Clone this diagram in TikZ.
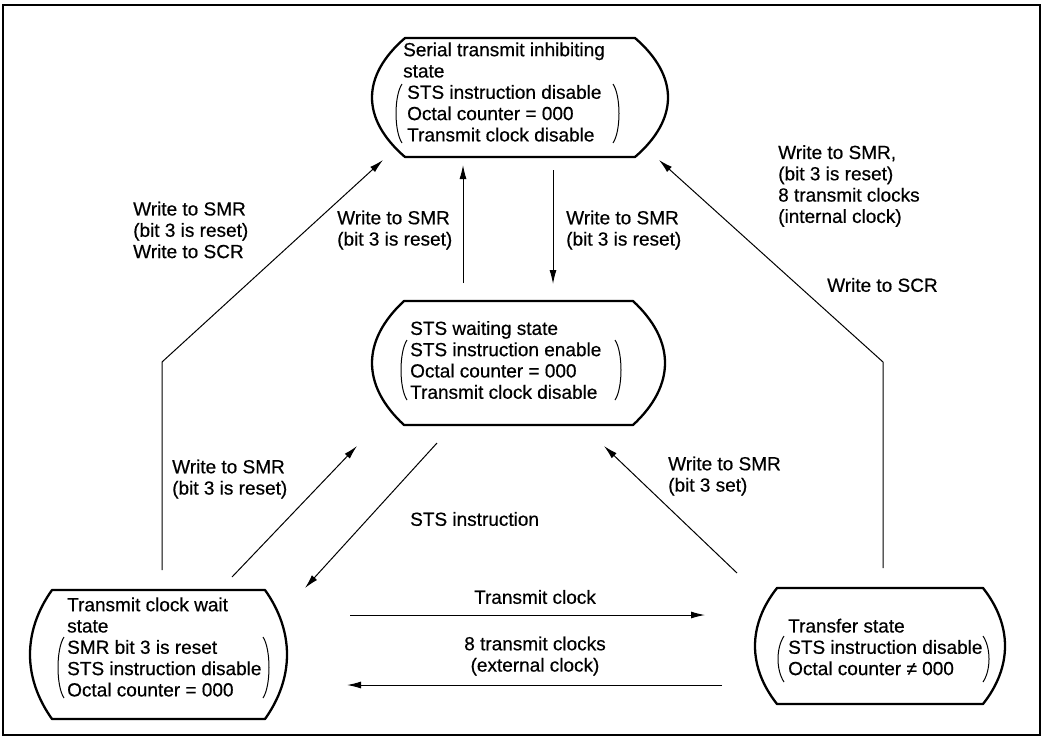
\documentclass[tikz,border=0pt]{standalone}
\usepackage{fontspec}
\setmainfont{Liberation Sans}[FakeBold=0.5]
\usetikzlibrary{arrows.meta}
\newcommand\barrelshape[5]{%
  \draw[statebox] (#1+#5,#3) -- (#2-#5,#3)
    .. controls (#2+#5/3,#3+0.32*#4-0.32*#3) and (#2+#5/3,#4-0.32*#4+0.32*#3) .. (#2-#5,#4)
    -- (#1+#5,#4)
    .. controls (#1-#5/3,#4-0.32*#4+0.32*#3) and (#1-#5/3,#3+0.32*#4-0.32*#3) .. cycle;}
\newcommand\leftparen[3]{%
  \draw[paren] (#1+5,#2) .. controls (#1-3,#2+12) and (#1-3,#3-12) .. (#1+5,#3);}
\newcommand\rightparen[3]{%
  \draw[paren] (#1-5,#2) .. controls (#1+3,#2+12) and (#1+3,#3-12) .. (#1-5,#3);}
\tikzset{
  txt/.style={inner sep=0pt, align=left, anchor=west, font=\fontsize{19}{21.3}\selectfont},
  ctxt/.style={inner sep=0pt, align=center, font=\fontsize{19}{21.3}\selectfont},
  statebox/.style={draw, line width=2.3pt, line join=round},
  paren/.style={draw, line width=1pt},
  conn/.style={draw, line width=1pt, -{Latex[length=14pt,width=7pt]}},
  plainline/.style={draw, line width=1pt}
}
\begin{document}
\begin{tikzpicture}[x=1pt,y=-1pt]
\useasboundingbox (0,0) rectangle (1043,737);
\draw[line width=1.4pt] (3,5) rectangle (1040,735);

% states
\node[txt] (T) at (403,92) {Serial transmit inhibiting\\state\\\hspace*{4pt}STS instruction disable\\\hspace*{4pt}Octal counter = 000\\\hspace*{4pt}Transmit clock disable};
\barrelshape{372}{668}{38}{157}{33}
\leftparen{397}{84}{143}
\rightparen{618}{84}{143}

\node[txt] (M) at (410,360) {STS waiting state\\STS instruction enable\\Octal counter = 000\\Transmit clock disable};
\barrelshape{372}{665}{301}{425}{32}
\leftparen{402}{340}{400}
\rightparen{620}{340}{400}

\node[txt] (L) at (67,647) {Transmit clock wait\\state\\SMR bit 3 is reset\\STS instruction disable\\Octal counter = 000};
\barrelshape{30}{287}{590}{719}{22}
\leftparen{59}{637}{698}
\rightparen{268}{637}{698}

\node[txt] (R) at (788,647) {Transfer state\\STS instruction disable\\Octal counter ≠ 000};
\barrelshape{755}{1005}{588}{704}{22}
\leftparen{779}{636}{682}
\rightparen{988}{636}{682}

% connector end points
\coordinate (a1s) at (162,570); \coordinate (a1k) at (162,362); \coordinate (a1e) at (383,160);
\coordinate (a2s) at (463,283); \coordinate (a2e) at (463,165);
\coordinate (a3s) at (553,170); \coordinate (a3e) at (553,284);
\coordinate (a4s) at (883,568); \coordinate (a4k) at (883,362); \coordinate (a4e) at (659,160);
\coordinate (a5s) at (232,577); \coordinate (a5e) at (357,446);
\coordinate (a6s) at (437,443); \coordinate (a6e) at (305,588);
\coordinate (a7s) at (737,573); \coordinate (a7e) at (604,446);
\coordinate (a8s) at (350,615); \coordinate (a8e) at (705,615);
\coordinate (a9s) at (722,685); \coordinate (a9e) at (347,685);

\draw[conn] (a1s) -- (a1k) -- (a1e);
\draw[conn] (a2s) -- (a2e);
\draw[conn] (a3s) -- (a3e);
\draw[conn] (a4s) -- (a4k) -- (a4e);
\draw[conn] (a5s) -- (a5e);
\draw[conn] (a6s) -- (a6e);
\draw[conn] (a7s) -- (a7e);
\draw[conn] (a8s) -- (a8e);
\draw[conn] (a9s) -- (a9e);

% labels
\node[txt] (l1) at (133,230) {Write to SMR\\(bit 3 is reset)\\Write to SCR};
\node[txt] (l2) at (337,230) {Write to SMR\\(bit 3 is reset)};
\node[txt] (l3) at (566,230) {Write to SMR\\(bit 3 is reset)};
\node[txt] (l4) at (778,186) {Write to SMR,\\(bit 3 is reset)\\8 transmit clocks\\(internal clock)};
\node[txt] (l5) at (827,285) {Write to SCR};
\node[txt] (l6) at (172,479) {Write to SMR\\(bit 3 is reset)};
\node[txt] (l7) at (410,519) {STS instruction};
\node[txt] (l8) at (668,476) {Write to SMR\\(bit 3 set)};
\node[ctxt] (l9) at (535,597) {Transmit clock};
\node[ctxt] (l10) at (535,656) {8 transmit clocks\\(external clock)};
\end{tikzpicture}
\end{document}
